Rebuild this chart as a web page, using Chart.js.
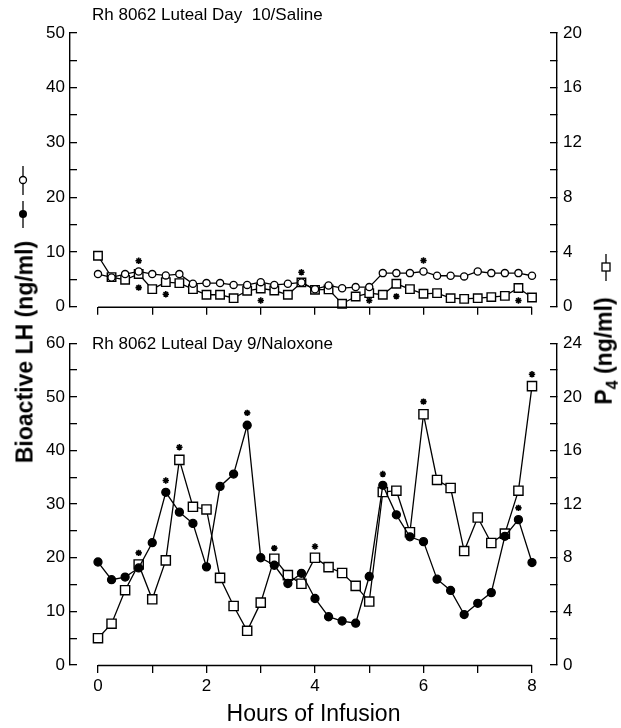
<!DOCTYPE html>
<html>
<head>
<meta charset="utf-8">
<script src="https://cdn.jsdelivr.net/npm/chart.js@4.4.1/dist/chart.umd.min.js"></script>
<style>
  body { margin: 0; background: #fff; }
  #wrap { position: relative; width: 621px; height: 728px; font-family: "Liberation Sans", Arial, sans-serif; color: #000; }
  canvas { position: absolute; left: 0; }
  .ytitle { position: absolute; font-weight: bold; font-size: 23px; white-space: nowrap; transform: translate(-50%, -50%) rotate(-90deg); }
  .ytitle sub { font-size: 70%; }
</style>
</head>
<body>
<div id="wrap">
  <canvas id="saline" width="621" height="330" style="top:0"></canvas>
  <canvas id="naloxone" width="621" height="408" style="top:320px"></canvas>
  <div class="ytitle" style="left:25px; top:352px">Bioactive LH (ng/ml)</div>
  <div class="ytitle" style="left:606px; top:351px">P<sub>4</sub> (ng/ml)</div>
</div>
<script>
// sampling times (hours of infusion)
const hours = [0, 0.25, 0.5, 0.75, 1, 1.25, 1.5, 1.75, 2, 2.25, 2.5, 2.75, 3, 3.25, 3.5, 3.75, 4,
               4.25, 4.5, 4.75, 5, 5.25, 5.5, 5.75, 6, 6.25, 6.5, 6.75, 7, 7.25, 7.5, 7.75, 8];
const hourTicks = [0, 1, 2, 3, 4, 5, 6, 7, 8];

// Luteal day 10 / saline
const salineLH = [5.97, 5.36, 5.97, 6.45, 5.97, 5.73, 5.97, 4.2, 4.33, 4.33, 4.0, 4.0, 4.5, 4.0, 4.2, 4.45, 3.2,
                  3.9, 3.4, 3.6, 3.6, 6.15, 6.15, 6.15, 6.45, 5.67, 5.67, 5.55, 6.45, 6.15, 6.15, 6.15, 5.67];
const salineP4 = [3.73, 2.17, 1.97, 2.4, 1.29, 1.8, 1.73, 1.29, 0.88, 0.88, 0.63, 1.17, 1.34, 1.19, 0.88, 1.78, 1.24,
                  1.27, 0.22, 0.75, 1.0, 0.88, 1.68, 1.29, 0.95, 1.0, 0.63, 0.58, 0.63, 0.71, 0.8, 1.37, 0.68];
const salineStarHours = [0.75, 0.75, 1.25, 3, 3.75, 5, 5.5, 6, 7.75];
const salineStarLH = [8.4, 3.5, 2.3, 1.15, 6.3, 1.15, 1.9, 8.46, 1.15];

// Luteal day 9 / naloxone
const naloxoneLH = [19.2, 15.9, 16.4, 18.1, 22.8, 32.2, 28.5, 26.4, 18.3, 33.3, 35.6, 44.7, 20.0, 18.6, 15.2, 17.1, 12.4,
                    9.0, 8.2, 7.8, 16.5, 33.5, 28.0, 23.9, 23.0, 16.0, 13.9, 9.4, 11.5, 13.5, 24.0, 27.1, 19.1];
const naloxoneP4 = [2.0, 3.08, 5.58, 7.5, 4.9, 7.8, 15.3, 11.8, 11.6, 6.5, 4.4, 2.55, 4.65, 7.93, 6.7, 6.06, 8.0,
                    7.3, 6.86, 5.9, 4.73, 12.9, 13.0, 9.9, 18.7, 13.8, 13.2, 8.5, 11.0, 9.1, 9.8, 13.0, 20.8];
const naloxoneStarHours = [0.75, 1.25, 1.5, 2.75, 3.25, 4, 5.25, 6, 7.75, 8];
const naloxoneStarLH = [20.9, 34.4, 40.6, 47.0, 21.8, 22.1, 35.6, 49.1, 29.3, 54.2];

const FONT = '"Liberation Sans", Arial, sans-serif';
const pts = (xs, ys) => xs.map((x, i) => ({ x: x, y: ys[i] }));

// x axis line only runs from 0 to 8 h, plus the panel caption
const panelDeco = {
  id: 'panelDeco',
  afterDraw(chart) {
    const ctx = chart.ctx, xs = chart.scales.x, y = chart.chartArea.bottom + 0.5;
    ctx.save();
    ctx.strokeStyle = '#000';
    ctx.lineWidth = 1.4;
    ctx.beginPath();
    ctx.moveTo(xs.getPixelForValue(0), y);
    ctx.lineTo(xs.getPixelForValue(8), y);
    ctx.stroke();
    const o = chart.options.plugins.panelDeco;
    ctx.fillStyle = '#000';
    ctx.font = '17px ' + FONT;
    ctx.textBaseline = 'middle';
    ctx.fillText(o.caption, 92, o.captionY);
    if (o.glyphs) {
      // symbol keys next to the axis titles
      ctx.lineWidth = 1.3;
      ctx.beginPath(); ctx.moveTo(23, 166); ctx.lineTo(23, 195); ctx.stroke();
      ctx.beginPath(); ctx.arc(23, 180, 3.5, 0, Math.PI * 2); ctx.fillStyle = '#fff'; ctx.fill(); ctx.stroke();
      ctx.beginPath(); ctx.moveTo(23, 201); ctx.lineTo(23, 228); ctx.stroke();
      ctx.beginPath(); ctx.arc(23, 214, 4, 0, Math.PI * 2); ctx.fillStyle = '#000'; ctx.fill();
      ctx.beginPath(); ctx.moveTo(606, 254); ctx.lineTo(606, 281); ctx.stroke();
      ctx.fillStyle = '#fff';
      ctx.fillRect(602, 263, 8, 8); ctx.strokeRect(602, 263, 8, 8);
    }
    ctx.restore();
  }
};

function makePanel(id, o) {
  return new Chart(document.getElementById(id), {
    type: 'line',
    data: {
      datasets: [{
        label: 'P4',
        data: pts(hours, o.p4),
        yAxisID: 'y1',
        borderColor: '#000',
        borderWidth: 1.3,
        backgroundColor: '#fff',
        pointStyle: 'rect',
        pointRadius: o.squareR,
        pointBorderWidth: 1.4,
        tension: 0,
        clip: false,
        order: 2
      }, {
        label: 'LH',
        data: pts(hours, o.lh),
        yAxisID: 'y',
        borderColor: '#000',
        borderWidth: 1.3,
        backgroundColor: o.filled ? '#000' : '#fff',
        pointStyle: 'circle',
        pointRadius: o.circleR,
        pointBorderWidth: 1.3,
        tension: 0,
        clip: false,
        order: 1
      }, {
        label: 'p < 0.05',
        data: pts(o.starHours, o.starLH),
        yAxisID: 'y',
        showLine: false,
        borderColor: '#000',
        pointStyle: 'star',
        pointRadius: 3.2,
        pointBorderWidth: 1.6,
        clip: false,
        order: 0
      }]
    },
    options: {
      responsive: false,
      animation: false,
      layout: { padding: { top: o.padTop, left: 0, right: 0, bottom: 0 } },
      plugins: {
        legend: { display: false },
        tooltip: { enabled: false },
        panelDeco: { caption: o.caption, captionY: o.captionY, glyphs: o.glyphs }
      },
      scales: {
        x: {
          type: 'linear',
          min: -0.516,
          max: 8.461,
          afterBuildTicks: axis => { axis.ticks = hourTicks.map(v => ({ value: v })); },
          afterFit: axis => { axis.height = o.xHeight; },
          grid: { drawOnChartArea: false, drawTicks: true, tickLength: 8, color: '#000', lineWidth: 1.3 },
          border: { display: false },
          ticks: {
            display: o.xLabels,
            color: '#000',
            font: { family: FONT, size: 17 },
            padding: 3,
            maxRotation: 0,
            autoSkip: false,
            callback: v => (v % 2 === 0 ? v : '')
          },
          title: {
            display: o.xLabels,
            text: 'Hours of Infusion',
            color: '#000',
            font: { family: FONT, size: 23, lineHeight: 1 },
            padding: { top: 0, bottom: 2 }
          }
        },
        y: {
          position: 'left',
          min: 0,
          max: o.lhMax,
          afterFit: axis => { axis.width = 70; },
          grid: { drawOnChartArea: false, drawTicks: true, tickLength: -7, color: '#000', lineWidth: 1.3 },
          border: { display: true, color: '#000', width: 1.4 },
          ticks: {
            stepSize: 5,
            color: '#000',
            font: { family: FONT, size: 17 },
            padding: 12,
            callback: v => (v % 10 === 0 ? v : '')
          }
        },
        y1: {
          position: 'right',
          min: 0,
          max: o.p4Max,
          afterFit: axis => { axis.width = 64; },
          grid: { drawOnChartArea: false, drawTicks: true, tickLength: -7, color: '#000', lineWidth: 1.3 },
          border: { display: true, color: '#000', width: 1.4 },
          ticks: {
            stepSize: 2,
            color: '#000',
            font: { family: FONT, size: 17 },
            padding: 13,
            callback: v => (v % 4 === 0 ? v : '')
          }
        }
      }
    },
    plugins: [panelDeco]
  });
}

makePanel('saline', {
  lh: salineLH, p4: salineP4, starHours: salineStarHours, starLH: salineStarLH,
  lhMax: 50, p4Max: 20, filled: false, circleR: 3.6, squareR: 6,
  padTop: 33, xHeight: 23, xLabels: false,
  caption: 'Rh 8062 Luteal Day  10/Saline', captionY: 15, glyphs: true
});

makePanel('naloxone', {
  lh: naloxoneLH, p4: naloxoneP4, starHours: naloxoneStarHours, starLH: naloxoneStarLH,
  lhMax: 60, p4Max: 24, filled: true, circleR: 4, squareR: 6.5,
  padTop: 16, xHeight: 63, xLabels: true,
  caption: 'Rh 8062 Luteal Day 9/Naloxone', captionY: 24, glyphs: false
});
</script>
</body>
</html>
